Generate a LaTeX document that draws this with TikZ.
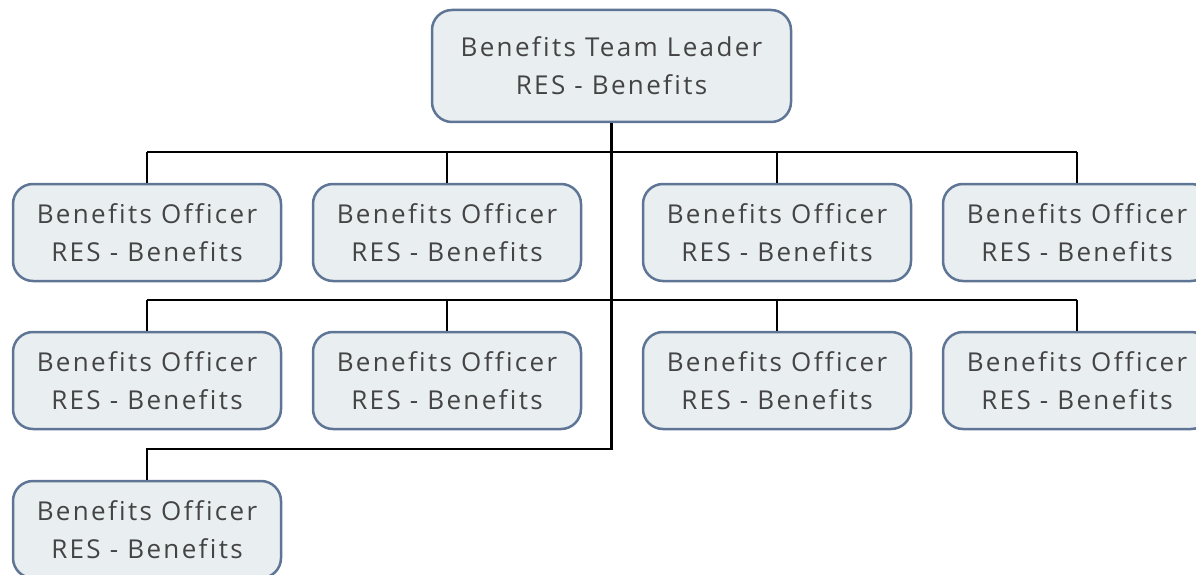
\documentclass[tikz,border=0pt]{standalone}
\usepackage{fontspec}
\setmainfont[LetterSpace=9,Ligatures=NoCommon]{Open Sans}
\usepackage{xcolor}
\usepackage{tikz}
\usetikzlibrary{positioning,calc}
\definecolor{boxfill}{HTML}{E9EEF1}
\definecolor{boxdraw}{HTML}{5F7596}
\definecolor{boxtext}{HTML}{444444}
\tikzset{
    staff/.style={
        draw=boxdraw,
        fill=boxfill,
        line width=2.5pt,
        rounded corners=20pt,
        minimum width=268pt,
        minimum height=97pt,
        align=center,
        text=boxtext,
        font=\fontsize{26}{38}\selectfont
    },
    leader/.style={
        staff,
        minimum width=359pt,
        minimum height=112pt
    },
    orgline/.style={
        draw=black,
        line width=2.5pt
    }
}

\begin{document}
\begin{tikzpicture}[x=1pt,y=1pt,node distance=48.5pt and 29.5pt]
        \useasboundingbox (0,0) rectangle (1196,-575);
        \node[leader] (lead) at (611.5,-66) {Benefits Team Leader\\RES - Benefits};

        \node[staff] (o1) at (147,-232.5) {Benefits Officer\\RES - Benefits};
        \node[staff, right=of o1] (o2) {Benefits Officer\\RES - Benefits};
        \node[staff, right=59.5pt of o2] (o3) {Benefits Officer\\RES - Benefits};
        \node[staff, right=of o3] (o4) {Benefits Officer\\RES - Benefits};

        \node[staff, below=of o1] (o5) {Benefits Officer\\RES - Benefits};
        \node[staff, below=of o2] (o6) {Benefits Officer\\RES - Benefits};
        \node[staff, below=of o3] (o7) {Benefits Officer\\RES - Benefits};
        \node[staff, below=of o4] (o8) {Benefits Officer\\RES - Benefits};

        \node[staff, below=49.5pt of o5] (o9) {Benefits Officer\\RES - Benefits};

        \path[orgline] (lead.south) |- ($(o9.north)+(0,31)$) -- (o9.north);
        \foreach \a/\b in {o1/o4, o5/o8}
            \path[orgline] ($(\a.north)+(0,31)$) -- ($(\b.north)+(0,31)$);
        \foreach \n in {1,...,8}
            \path[orgline] (o\n.north) -- ++(0,31);
    \end{tikzpicture}
\end{document}
